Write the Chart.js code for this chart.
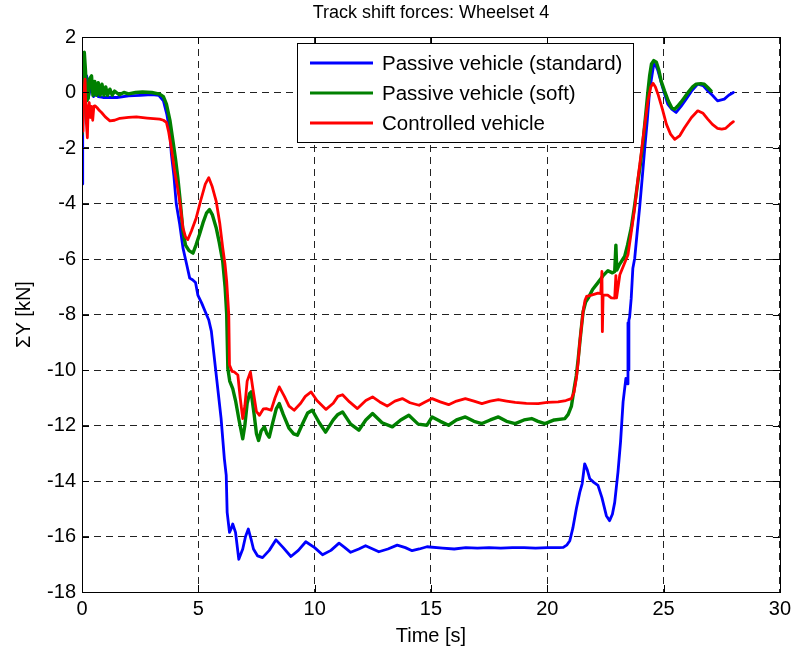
<!DOCTYPE html>
<html>
<head>
<meta charset="utf-8">
<script src="https://cdn.jsdelivr.net/npm/chart.js@4.4.0/dist/chart.umd.min.js"></script>
<style>
html,body{margin:0;padding:0;background:#fff;}
#wrap{width:796px;height:649px;}
</style>
</head>
<body>
<div id="wrap"><canvas id="c" width="796" height="649"></canvas></div>
<script>
const chartTitle = 'Track shift forces: Wheelset 4';
const xLabel = 'Time [s]';
const yLabel = 'ΣY [kN]';
const seriesNames = ['Passive vehicle (standard)', 'Passive vehicle (soft)', 'Controlled vehicle'];
const seriesColors = ['#0000ff', '#008000', '#ff0000'];
const xTicks = [0, 5, 10, 15, 20, 25, 30];
const yTicks = [2, 0, -2, -4, -6, -8, -10, -12, -14, -16, -18];

// Passive vehicle (standard)
const tStd = [0, 0.03, 0.08, 0.15, 0.2, 0.3, 0.4, 0.5, 0.6, 0.7, 0.9, 1.5, 2.0, 2.5, 3.0, 3.3, 3.5, 3.65, 3.77, 3.84, 3.95, 4.05, 4.2, 4.34, 4.5, 4.63, 4.75, 4.88, 4.98, 5.15, 5.3, 5.45, 5.56, 5.8, 5.98, 6.12, 6.2, 6.24, 6.34, 6.42, 6.48, 6.6, 6.74, 6.91, 7.03, 7.15, 7.27, 7.37, 7.55, 7.76, 8.05, 8.34, 8.65, 8.98, 9.3, 9.62, 10.0, 10.34, 10.7, 11.05, 11.3, 11.55, 11.9, 12.19, 12.5, 12.76, 13.15, 13.55, 13.9, 14.19, 14.5, 14.83, 15.5, 16.0, 16.5, 17.0, 17.5, 18.0, 18.5, 19.0, 19.5, 20.0, 20.5, 20.69, 20.85, 20.97, 21.1, 21.25, 21.4, 21.5, 21.61, 21.72, 21.83, 22.0, 22.18, 22.35, 22.54, 22.68, 22.8, 22.9, 23.04, 23.15, 23.26, 23.38, 23.45, 23.47, 23.49, 23.51, 23.54, 23.61, 23.68, 23.76, 23.87, 23.97, 24.08, 24.18, 24.3, 24.4, 24.5, 24.58, 24.68, 24.76, 24.95, 25.18, 25.35, 25.54, 25.75, 25.97, 26.2, 26.47, 26.7, 26.9, 27.1, 27.32, 27.61, 27.8, 28.0];
const vStd = [-3.3, -1.5, 0.5, 0.2, 0.6, -0.1, 0.3, -0.15, 0.1, -0.15, -0.18, -0.18, -0.12, -0.1, -0.08, -0.1, -0.3, -0.8, -1.38, -2.2, -3.0, -4.0, -4.75, -5.6, -6.2, -6.69, -6.75, -6.85, -7.3, -7.6, -7.9, -8.2, -8.6, -10.4, -11.75, -13.2, -13.8, -15.13, -15.85, -15.7, -15.55, -15.85, -16.82, -16.45, -16.0, -15.73, -16.1, -16.45, -16.7, -16.76, -16.5, -16.12, -16.4, -16.72, -16.5, -16.19, -16.4, -16.66, -16.5, -16.24, -16.4, -16.57, -16.45, -16.33, -16.45, -16.55, -16.45, -16.31, -16.4, -16.51, -16.45, -16.37, -16.42, -16.45, -16.4, -16.42, -16.4, -16.42, -16.4, -16.4, -16.42, -16.4, -16.4, -16.39, -16.3, -16.15, -15.7, -15.0, -14.4, -14.1, -13.38, -13.6, -13.92, -14.05, -14.16, -14.6, -15.25, -15.43, -15.2, -14.77, -13.68, -12.6, -11.15, -10.3, -10.5, -8.3, -10.0, -8.2, -8.1, -7.41, -6.33, -5.97, -5.0, -4.16, -3.1, -2.11, -1.0, 0.06, 0.6, 1.03, 0.95, 0.78, 0.2, -0.42, -0.6, -0.72, -0.5, -0.24, 0.05, 0.3, 0.25, 0.06, -0.1, -0.3, -0.24, -0.1, 0.0];

// Passive vehicle (soft)
const tSoft = [0, 0.05, 0.1, 0.15, 0.2, 0.27, 0.33, 0.41, 0.47, 0.55, 0.62, 0.7, 0.78, 0.86, 0.94, 1.02, 1.1, 1.2, 1.3, 1.4, 1.6, 1.8, 2.0, 2.3, 2.6, 3.0, 3.34, 3.5, 3.63, 3.78, 3.91, 4.02, 4.12, 4.22, 4.34, 4.45, 4.6, 4.77, 4.9, 5.05, 5.2, 5.35, 5.48, 5.6, 5.77, 5.9, 6.05, 6.15, 6.22, 6.27, 6.35, 6.48, 6.6, 6.75, 6.91, 7.0, 7.1, 7.2, 7.27, 7.4, 7.5, 7.59, 7.7, 7.84, 7.95, 8.05, 8.2, 8.35, 8.48, 8.65, 8.9, 9.1, 9.26, 9.5, 9.7, 9.9, 10.2, 10.47, 10.8, 11.0, 11.2, 11.55, 11.9, 12.2, 12.49, 12.9, 13.34, 13.7, 14.05, 14.45, 14.83, 15.05, 15.4, 15.76, 16.1, 16.48, 16.85, 17.19, 17.55, 17.9, 18.25, 18.62, 19.0, 19.33, 19.6, 19.9, 20.3, 20.76, 20.9, 21.04, 21.15, 21.25, 21.33, 21.45, 21.54, 21.65, 21.76, 21.95, 22.18, 22.4, 22.61, 22.8, 22.9, 22.95, 22.99, 23.1, 23.33, 23.45, 23.61, 23.75, 23.9, 24.0, 24.12, 24.22, 24.33, 24.4, 24.48, 24.58, 24.69, 24.8, 24.9, 25.04, 25.2, 25.35, 25.47, 25.6, 25.75, 25.9, 26.1, 26.25, 26.4, 26.6, 26.75, 26.9, 27.04];
const vSoft = [-1.5, -0.5, 1.45, 0.8, -0.3, -0.2, 0.5, 0.6, -0.1, 0.4, -0.1, 0.35, -0.1, 0.3, -0.1, 0.2, -0.1, 0.12, -0.1, 0.05, -0.08, 0.0, -0.05, 0.0, 0.02, 0.0, -0.06, -0.15, -0.42, -1.0, -1.75, -2.4, -3.07, -3.9, -5.0, -5.5, -5.7, -5.79, -5.5, -5.12, -4.7, -4.35, -4.22, -4.4, -4.88, -5.4, -6.09, -7.0, -8.0, -9.95, -10.4, -10.67, -11.1, -11.8, -12.48, -12.0, -11.2, -10.85, -10.79, -11.6, -12.3, -12.54, -12.2, -12.05, -12.3, -12.42, -11.9, -11.4, -11.21, -11.6, -12.1, -12.3, -12.35, -11.9, -11.55, -11.45, -11.9, -12.24, -11.8, -11.6, -11.51, -11.95, -12.17, -11.8, -11.57, -11.9, -12.05, -11.8, -11.63, -11.95, -11.99, -11.69, -11.85, -11.99, -11.8, -11.69, -11.85, -11.93, -11.8, -11.69, -11.85, -11.93, -11.8, -11.75, -11.85, -11.93, -11.8, -11.75, -11.6, -11.3, -10.7, -10.2, -9.6, -8.6, -7.9, -7.55, -7.41, -7.1, -6.85, -6.6, -6.42, -6.5, -6.45, -5.5, -6.4, -6.2, -5.9, -5.5, -4.88, -4.1, -3.19, -2.6, -1.75, -0.9, 0.06, 0.6, 1.03, 1.15, 1.09, 0.8, 0.4, 0.06, -0.3, -0.55, -0.6, -0.5, -0.35, -0.18, 0.05, 0.2, 0.3, 0.32, 0.3, 0.18, 0.06];

// Controlled vehicle
const tCtrl = [0, 0.04, 0.08, 0.13, 0.18, 0.23, 0.27, 0.31, 0.36, 0.41, 0.46, 0.51, 0.56, 0.65, 0.75, 0.84, 1.0, 1.2, 1.4, 1.63, 2.0, 2.34, 2.8, 3.34, 3.5, 3.63, 3.72, 3.84, 3.98, 4.1, 4.2, 4.34, 4.45, 4.55, 4.7, 4.91, 5.1, 5.3, 5.45, 5.6, 5.77, 5.92, 6.05, 6.15, 6.22, 6.31, 6.34, 6.45, 6.55, 6.7, 6.8, 6.91, 7.0, 7.1, 7.24, 7.35, 7.5, 7.63, 7.8, 7.92, 8.13, 8.3, 8.48, 8.7, 8.9, 9.12, 9.4, 9.6, 9.85, 10.1, 10.49, 10.8, 11.0, 11.2, 11.5, 11.84, 12.2, 12.49, 12.8, 13.12, 13.45, 13.77, 14.1, 14.49, 14.75, 15.05, 15.4, 15.76, 16.1, 16.48, 16.85, 17.19, 17.55, 17.9, 18.25, 18.62, 19.1, 19.61, 20.0, 20.47, 20.8, 21.04, 21.15, 21.26, 21.33, 21.4, 21.54, 21.62, 21.69, 21.9, 22.18, 22.3, 22.35, 22.37, 22.4, 22.6, 22.75, 22.9, 22.95, 22.98, 23.12, 23.3, 23.47, 23.6, 23.76, 23.9, 24.05, 24.2, 24.33, 24.45, 24.55, 24.65, 24.76, 24.95, 25.12, 25.3, 25.48, 25.7, 25.9, 26.2, 26.47, 26.7, 26.9, 27.1, 27.32, 27.5, 27.67, 27.85, 28.0];
const vCtrl = [-1.4, -0.2, 0.0, 0.48, -1.0, -1.63, -0.5, -0.36, -0.9, -0.5, -1.0, -0.5, -0.48, -0.55, -0.65, -0.72, -0.88, -1.02, -1.0, -0.93, -0.9, -0.88, -0.92, -0.96, -1.0, -1.08, -1.4, -1.99, -2.83, -3.4, -3.92, -4.88, -5.2, -5.3, -5.0, -4.52, -3.9, -3.3, -3.07, -3.4, -3.92, -4.7, -5.6, -6.2, -6.81, -8.01, -9.82, -10.05, -10.07, -10.18, -11.0, -11.75, -11.3, -10.4, -10.07, -10.7, -11.5, -11.63, -11.4, -11.39, -11.45, -11.0, -10.61, -10.95, -11.3, -11.45, -11.2, -10.95, -10.79, -11.1, -11.42, -11.2, -10.95, -10.89, -11.15, -11.39, -11.1, -10.97, -11.15, -11.3, -11.12, -11.03, -11.18, -11.27, -11.15, -11.03, -11.15, -11.25, -11.12, -11.03, -11.12, -11.21, -11.12, -11.07, -11.12, -11.17, -11.2, -11.21, -11.17, -11.15, -11.1, -11.03, -10.8, -10.25, -9.7, -8.98, -7.9, -7.5, -7.35, -7.3, -7.23, -7.25, -6.45, -8.62, -7.3, -7.3, -7.4, -7.41, -6.6, -7.4, -6.57, -6.2, -5.85, -5.1, -4.16, -3.1, -2.11, -1.1, -0.3, 0.2, 0.33, 0.2, -0.06, -0.6, -1.14, -1.5, -1.69, -1.55, -1.27, -0.9, -0.66, -0.75, -0.96, -1.15, -1.29, -1.32, -1.29, -1.15, -1.05];

const FONT = '"Liberation Sans", Arial, Helvetica, sans-serif';

function pts(ts, vs) { return ts.map((t, i) => ({ x: t, y: vs[i] })); }

const framePlugin = {
  id: 'frame',
  afterDraw(chart) {
    const { ctx, chartArea: a, scales } = chart;
    ctx.save();
    ctx.strokeStyle = '#000';
    ctx.lineWidth = 1;
    ctx.setLineDash([]);
    ctx.strokeRect(Math.round(a.left) + 0.5, Math.round(a.top) + 0.5, Math.round(a.right - a.left), Math.round(a.bottom - a.top));
    const L = 7;
    ctx.beginPath();
    xTicks.forEach(v => {
      const x = Math.round(scales.x.getPixelForValue(v)) + 0.5;
      ctx.moveTo(x, a.bottom); ctx.lineTo(x, a.bottom - L);
      ctx.moveTo(x, a.top); ctx.lineTo(x, a.top + L);
    });
    yTicks.forEach(v => {
      const y = Math.round(scales.y.getPixelForValue(v)) + 0.5;
      ctx.moveTo(a.left, y); ctx.lineTo(a.left + L, y);
      ctx.moveTo(a.right, y); ctx.lineTo(a.right - L, y);
    });
    ctx.stroke();

    // title
    ctx.fillStyle = '#000';
    ctx.font = '18px ' + FONT;
    ctx.textAlign = 'center';
    ctx.textBaseline = 'middle';
    ctx.fillText(chartTitle, (a.left + a.right) / 2, 13);

    // legend
    const bx = 297.5, by = 43.5, bw = 336, bh = 99;
    ctx.fillStyle = '#fff';
    ctx.fillRect(bx, by, bw, bh);
    ctx.strokeStyle = '#000';
    ctx.lineWidth = 1;
    ctx.strokeRect(bx, by, bw, bh);
    ctx.font = '20.5px ' + FONT;
    ctx.textAlign = 'left';
    ctx.textBaseline = 'middle';
    seriesNames.forEach((name, i) => {
      const y = 63 + i * 30;
      ctx.strokeStyle = seriesColors[i];
      ctx.lineWidth = 3;
      ctx.beginPath();
      ctx.moveTo(310, y); ctx.lineTo(373, y);
      ctx.stroke();
      ctx.fillStyle = '#000';
      ctx.fillText(name, 382, y + 1);
    });
    ctx.restore();
  }
};

new Chart(document.getElementById('c'), {
  type: 'line',
  data: {
    datasets: [
      { label: seriesNames[0], data: pts(tStd, vStd), borderColor: seriesColors[0], borderWidth: 2.8, order: 3 },
      { label: seriesNames[1], data: pts(tSoft, vSoft), borderColor: seriesColors[1], borderWidth: 3.4, order: 2 },
      { label: seriesNames[2], data: pts(tCtrl, vCtrl), borderColor: seriesColors[2], borderWidth: 2.8, order: 1 }
    ]
  },
  options: {
    responsive: false,
    devicePixelRatio: 1,
    animation: false,
    layout: { padding: { top: 37, right: 12, left: 0, bottom: 0 } },
    elements: {
      point: { radius: 0 },
      line: { tension: 0, borderJoinStyle: 'round', borderCapStyle: 'round', fill: false }
    },
    plugins: { legend: { display: false }, title: { display: false }, tooltip: { enabled: false } },
    scales: {
      x: {
        type: 'linear', min: 0, max: 30,
        afterBuildTicks(s) { s.ticks = xTicks.map(v => ({ value: v })); },
        afterFit(s) { s.height = 57; },
        grid: { color: '#222', lineWidth: 1, drawTicks: false },
        border: { display: false, dash: [7, 5] },
        ticks: { color: '#000', font: { family: FONT, size: 20 }, padding: 5, maxRotation: 0 },
        title: { display: true, text: xLabel, color: '#000', font: { family: FONT, size: 20 }, padding: { top: 0, bottom: 1 } }
      },
      y: {
        type: 'linear', min: -18, max: 2,
        afterBuildTicks(s) { s.ticks = yTicks.map(v => ({ value: v })); },
        afterFit(s) { s.width = 82; },
        grid: { color: '#222', lineWidth: 1, drawTicks: false },
        border: { display: false, dash: [7, 5] },
        ticks: { color: '#000', font: { family: FONT, size: 20 }, padding: 6 },
        title: { display: true, text: yLabel, color: '#000', font: { family: FONT, size: 20 }, padding: { top: 12, bottom: 0 } }
      }
    }
  },
  plugins: [framePlugin]
});
</script>
</body>
</html>
